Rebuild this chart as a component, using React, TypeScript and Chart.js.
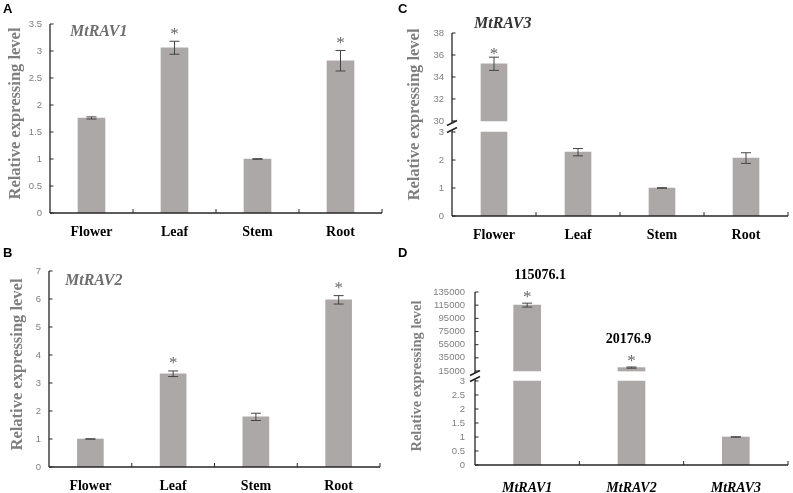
import React, { useEffect, useRef } from 'react';
import { Chart, registerables } from 'chart.js';

Chart.register(...registerables);

// ---------------- data ----------------
const TISSUES = ['Flower', 'Leaf', 'Stem', 'Root'];

const RAV1_MEAN = [1.76, 3.06, 1.0, 2.82];
const RAV1_ERR = [0.02, 0.12, 0.005, 0.19];
const RAV1_SIG = [false, true, false, true];

const RAV2_MEAN = [1.0, 3.33, 1.79, 5.97];
const RAV2_ERR = [0.005, 0.1, 0.13, 0.15];
const RAV2_SIG = [false, true, false, true];

const RAV3_MEAN = [35.2, 2.28, 1.0, 2.07];
const RAV3_ERR = [0.6, 0.13, 0.01, 0.19];
const RAV3_SIG = [true, false, false, false];

const GENES = ['MtRAV1', 'MtRAV2', 'MtRAV3'];
const GENE_MEAN = [115076.1, 20176.9, 1.0];
const GENE_ERR = [3000, 900, 0.005];
const GENE_SIG = [true, true, false];

const A_TICKS = [0, 0.5, 1, 1.5, 2, 2.5, 3, 3.5];
const B_TICKS = [0, 1, 2, 3, 4, 5, 6, 7];
const C_TICKS_LOW = [0, 1, 2, 3];
const C_TICKS_HIGH = [30, 32, 34, 36, 38];
const D_TICKS_LOW = [0, 0.5, 1, 1.5, 2, 2.5, 3];
const D_TICKS_HIGH = [15000, 35000, 55000, 75000, 95000, 115000, 135000];

const Y_TITLE = 'Relative expressing level';

// ---------------- styles ----------------
const SERIF = "'Liberation Serif', 'Times New Roman', serif";
const SANS = "'Liberation Sans', Arial, sans-serif";
const BAR = '#aca8a7';
const AXIS = '#262626';
const TICK = '#7f7f7f';
const TITLE = '#7f7f7f';
const ERR = '#444444';
const STAR = '#666666';

function figPlugin(cfg: any) {
  return {
    id: 'fig',
    afterDatasetsDraw(chart: any) {
      const ctx = chart.ctx;
      ctx.save();
      ctx.strokeStyle = AXIS;
      // y axis lines, inward ticks, break marks
      for (const ax of cfg.axes) {
        const s = chart.scales[ax.id];
        const x = s.right;
        let yT = s.getPixelForValue(ax.to);
        let yB = s.getPixelForValue(ax.from);
        if (ax.breakTop) yT -= 2;
        if (ax.breakBottom) yB += 2;
        ctx.lineWidth = 1.3;
        ctx.beginPath();
        ctx.moveTo(x, yT);
        ctx.lineTo(x, yB);
        ctx.stroke();
        ctx.lineWidth = 1;
        for (const t of s.ticks) {
          const y = s.getPixelForValue(t.value);
          ctx.beginPath();
          ctx.moveTo(x, y);
          ctx.lineTo(x + 3.5, y);
          ctx.stroke();
        }
        ctx.lineWidth = 1.8;
        const slash = (yy: number) => {
          ctx.beginPath();
          ctx.moveTo(x - 5, yy + 2.5);
          ctx.lineTo(x + 5, yy - 2.5);
          ctx.stroke();
        };
        if (ax.breakTop) slash(yT);
        if (ax.breakBottom) slash(yB);
      }
      // x axis line and inward boundary ticks
      const xs = chart.scales.x;
      const yAxis = xs.top;
      ctx.lineWidth = 1.3;
      ctx.beginPath();
      ctx.moveTo(xs.left, yAxis);
      ctx.lineTo(xs.right, yAxis);
      ctx.stroke();
      ctx.lineWidth = 1;
      const n = chart.data.labels.length;
      for (let i = 1; i <= n; i++) {
        const bx = xs.getPixelForValue(i - 0.5);
        ctx.beginPath();
        ctx.moveTo(bx, yAxis);
        ctx.lineTo(bx, yAxis - 4);
        ctx.stroke();
      }
      // error bars, asterisks, value labels
      chart.data.datasets.forEach((ds: any, di: number) => {
        const meta = chart.getDatasetMeta(di);
        const s = chart.scales[ds.yAxisID || 'y'];
        (ds.errMeans || []).forEach((m: number | null, i: number) => {
          if (m == null) return;
          const el = meta.data[i];
          if (!el) return;
          const e = ds.errs[i];
          const x = el.x;
          const yHi = s.getPixelForValue(m + e);
          const yLo = s.getPixelForValue(m - e);
          ctx.strokeStyle = ERR;
          ctx.lineWidth = 1;
          ctx.beginPath();
          ctx.moveTo(x, yHi);
          ctx.lineTo(x, yLo);
          ctx.moveTo(x - 5, yHi);
          ctx.lineTo(x + 5, yHi);
          ctx.moveTo(x - 5, yLo);
          ctx.lineTo(x + 5, yLo);
          ctx.stroke();
          if (ds.sig && ds.sig[i]) {
            ctx.fillStyle = STAR;
            ctx.font = `17px ${SERIF}`;
            ctx.textAlign = 'center';
            ctx.textBaseline = 'alphabetic';
            ctx.fillText('*', x, yHi - cfg.starGap + 8.5);
          }
          if (ds.values && ds.values[i]) {
            ctx.fillStyle = '#000';
            ctx.font = `bold 14px ${SERIF}`;
            ctx.textAlign = 'center';
            ctx.textBaseline = 'middle';
            ctx.fillText(ds.values[i], x + (cfg.valueDx ? cfg.valueDx[i] : 0), yHi - 28);
          }
        });
      });
      ctx.restore();
    },
    afterDraw(chart: any) {
      const ctx = chart.ctx;
      ctx.save();
      // y title
      ctx.translate(cfg.title.x, cfg.title.y);
      ctx.rotate(-Math.PI / 2);
      ctx.fillStyle = TITLE;
      ctx.font = `bold ${cfg.title.size}px ${SERIF}`;
      ctx.textAlign = 'center';
      ctx.textBaseline = 'middle';
      ctx.fillText(Y_TITLE, 0, 0);
      ctx.restore();
      if (cfg.gene) {
        ctx.save();
        ctx.fillStyle = cfg.gene.color;
        ctx.font = `italic bold 16px ${SERIF}`;
        ctx.textAlign = 'left';
        ctx.textBaseline = 'alphabetic';
        ctx.fillText(cfg.gene.text, cfg.gene.x, cfg.gene.y);
        ctx.restore();
      }
    },
  };
}

function yScale(ticks: number[], min: number, max: number, width: number, pad: number, extra: any = {}) {
  return {
    type: 'linear',
    position: 'left',
    min,
    max,
    grid: { display: false, drawTicks: false },
    border: { display: false },
    ticks: {
      color: TICK,
      font: { family: SANS, size: 9.5 },
      padding: pad,
      autoSkip: false,
      callback: (v: any) => String(v),
    },
    afterBuildTicks: (s: any) => {
      s.ticks = ticks.map((v) => ({ value: v }));
    },
    afterFit: (s: any) => {
      s.width = width;
    },
    ...extra,
  };
}

function xScale(height: number, pad: number, size: number, italic: boolean) {
  return {
    type: 'category',
    grid: { display: false, drawTicks: false },
    border: { display: false },
    ticks: {
      color: '#000',
      font: { family: SERIF, size, weight: 'bold', style: italic ? 'italic' : 'normal' },
      padding: pad,
      maxRotation: 0,
      autoSkip: false,
    },
    afterFit: (s: any) => {
      s.height = height;
    },
  };
}

function simpleConfig(p: any) {
  return {
    type: 'bar',
    data: {
      labels: p.labels,
      datasets: [
        {
          data: p.mean,
          backgroundColor: BAR,
          barThickness: p.barThickness,
          errMeans: p.mean,
          errs: p.err,
          sig: p.sig,
        },
      ],
    },
    options: {
      animation: false,
      responsive: false,
      layout: { padding: p.padding },
      plugins: { legend: { display: false }, tooltip: { enabled: false } },
      scales: {
        x: xScale(p.xHeight, p.xPad, 14, false),
        y: yScale(p.ticks, p.ticks[0], p.ticks[p.ticks.length - 1], p.yWidth, 8),
      },
    },
    plugins: [
      figPlugin({
        axes: [{ id: 'y', from: p.ticks[0], to: p.ticks[p.ticks.length - 1] }],
        starGap: p.starGap,
        title: p.title,
        gene: p.gene,
      }),
    ],
  };
}

function brokenConfig(p: any) {
  const lowCap = p.lowTicks[p.lowTicks.length - 1];
  const highBase = p.highTicks[0];
  const highTop = p.highTicks[p.highTicks.length - 1];
  return {
    type: 'bar',
    data: {
      labels: p.labels,
      datasets: [
        {
          data: p.mean.map((v: number) => Math.min(v, lowCap)),
          yAxisID: 'yBot',
          grouped: false,
          backgroundColor: BAR,
          barThickness: p.barThickness,
          errMeans: p.mean.map((v: number) => (v <= lowCap ? v : null)),
          errs: p.err,
          sig: p.sig,
        },
        {
          data: p.mean.map((v: number) => (v > highBase ? [highBase, v] : null)),
          yAxisID: 'yTop',
          grouped: false,
          backgroundColor: BAR,
          barThickness: p.barThickness,
          errMeans: p.mean.map((v: number) => (v > highBase ? v : null)),
          errs: p.err,
          sig: p.sig,
          values: p.showValues ? p.mean.map((v: number) => (v > highBase ? v.toFixed(1) : null)) : null,
        },
      ],
    },
    options: {
      animation: false,
      responsive: false,
      layout: { padding: p.padding },
      plugins: { legend: { display: false }, tooltip: { enabled: false } },
      scales: {
        x: xScale(p.xHeight, p.xPad, 14, p.xItalic),
        yBot: yScale(p.lowTicks, p.lowTicks[0], p.lowMax, p.yWidth, p.yPad, {
          stack: 'brk',
          stackWeight: p.lowWeight,
        }),
        yTop: yScale(p.highTicks, p.highMin, highTop, p.yWidth, p.yPad, {
          stack: 'brk',
          stackWeight: p.highWeight,
        }),
      },
    },
    plugins: [
      figPlugin({
        axes: [
          { id: 'yTop', from: highBase, to: highTop, breakBottom: true },
          { id: 'yBot', from: p.lowTicks[0], to: lowCap, breakTop: true },
        ],
        starGap: p.starGap,
        title: p.title,
        gene: p.gene,
        valueDx: p.valueDx,
      }),
    ],
  };
}

function ChartPanel({ left, top, width, height, make }: any) {
  const ref = useRef<HTMLCanvasElement>(null);
  useEffect(() => {
    const chart = new Chart(ref.current as HTMLCanvasElement, make());
    return () => chart.destroy();
  }, []);
  return (
    <canvas
      ref={ref}
      width={width}
      height={height}
      style={{ position: 'absolute', left, top, width, height }}
    />
  );
}

const letter = (left: number, top: number): React.CSSProperties => ({
  position: 'absolute',
  left,
  top,
  font: `bold 13px ${SANS}`,
  lineHeight: '13px',
  color: '#000',
});

export default function App() {
  return (
    <div
      style={{
        position: 'absolute',
        left: 0,
        top: 0,
        width: 793,
        height: 493,
        background: '#fff',
        overflow: 'hidden',
      }}
    >
      <ChartPanel
        left={0}
        top={0}
        width={395}
        height={247}
        make={() =>
          simpleConfig({
            labels: TISSUES,
            mean: RAV1_MEAN,
            err: RAV1_ERR,
            sig: RAV1_SIG,
            ticks: A_TICKS,
            yWidth: 50,
            xHeight: 30,
            xPad: 11,
            padding: { left: 0, right: 13, top: 24, bottom: 4 },
            barThickness: 27,
            starGap: 11,
            title: { x: 16, y: 113.5, size: 16.5 },
            gene: { text: 'MtRAV1', x: 70, y: 36, color: '#6e6e6e' },
          })
        }
      />
      <ChartPanel
        left={0}
        top={247}
        width={395}
        height={246}
        make={() =>
          simpleConfig({
            labels: TISSUES,
            mean: RAV2_MEAN,
            err: RAV2_ERR,
            sig: RAV2_SIG,
            ticks: B_TICKS,
            yWidth: 49,
            xHeight: 24,
            xPad: 11,
            padding: { left: 0, right: 15, top: 24, bottom: 2 },
            barThickness: 26,
            starGap: 11,
            title: { x: 17.5, y: 117.5, size: 16.5 },
            gene: { text: 'MtRAV2', x: 65, y: 38, color: '#6e6e6e' },
          })
        }
      />
      <ChartPanel
        left={395}
        top={0}
        width={398}
        height={247}
        make={() =>
          brokenConfig({
            labels: TISSUES,
            mean: RAV3_MEAN,
            err: RAV3_ERR,
            sig: RAV3_SIG,
            lowTicks: C_TICKS_LOW,
            highTicks: C_TICKS_HIGH,
            lowMax: 3.2,
            highMin: 29.5,
            lowWeight: 89.6,
            highWeight: 93.5,
            yWidth: 57,
            yPad: 8,
            xHeight: 27,
            xPad: 11,
            xItalic: false,
            padding: { left: 0, right: 5, top: 33, bottom: 4 },
            barThickness: 26,
            starGap: 7,
            title: { x: 20, y: 114.5, size: 16.5 },
            gene: { text: 'MtRAV3', x: 79, y: 28, color: '#333333' },
          })
        }
      />
      <ChartPanel
        left={395}
        top={247}
        width={398}
        height={246}
        make={() =>
          brokenConfig({
            labels: GENES,
            mean: GENE_MEAN,
            err: GENE_ERR,
            sig: GENE_SIG,
            lowTicks: D_TICKS_LOW,
            highTicks: D_TICKS_HIGH,
            lowMax: 3.18,
            highMin: 7500,
            lowWeight: 89.0,
            highWeight: 83.9,
            yWidth: 80,
            yPad: 10,
            xHeight: 28,
            xPad: 14.6,
            xItalic: true,
            padding: { left: 0, right: 5, top: 45, bottom: 0 },
            barThickness: 27,
            starGap: 10,
            showValues: true,
            valueDx: [13, -3, 0],
            title: { x: 22, y: 129, size: 14.5 },
            gene: null,
          })
        }
      />
      <div style={letter(3, 2)}>A</div>
      <div style={letter(3, 246)}>B</div>
      <div style={letter(398, 2)}>C</div>
      <div style={letter(398, 246)}>D</div>
    </div>
  );
}
